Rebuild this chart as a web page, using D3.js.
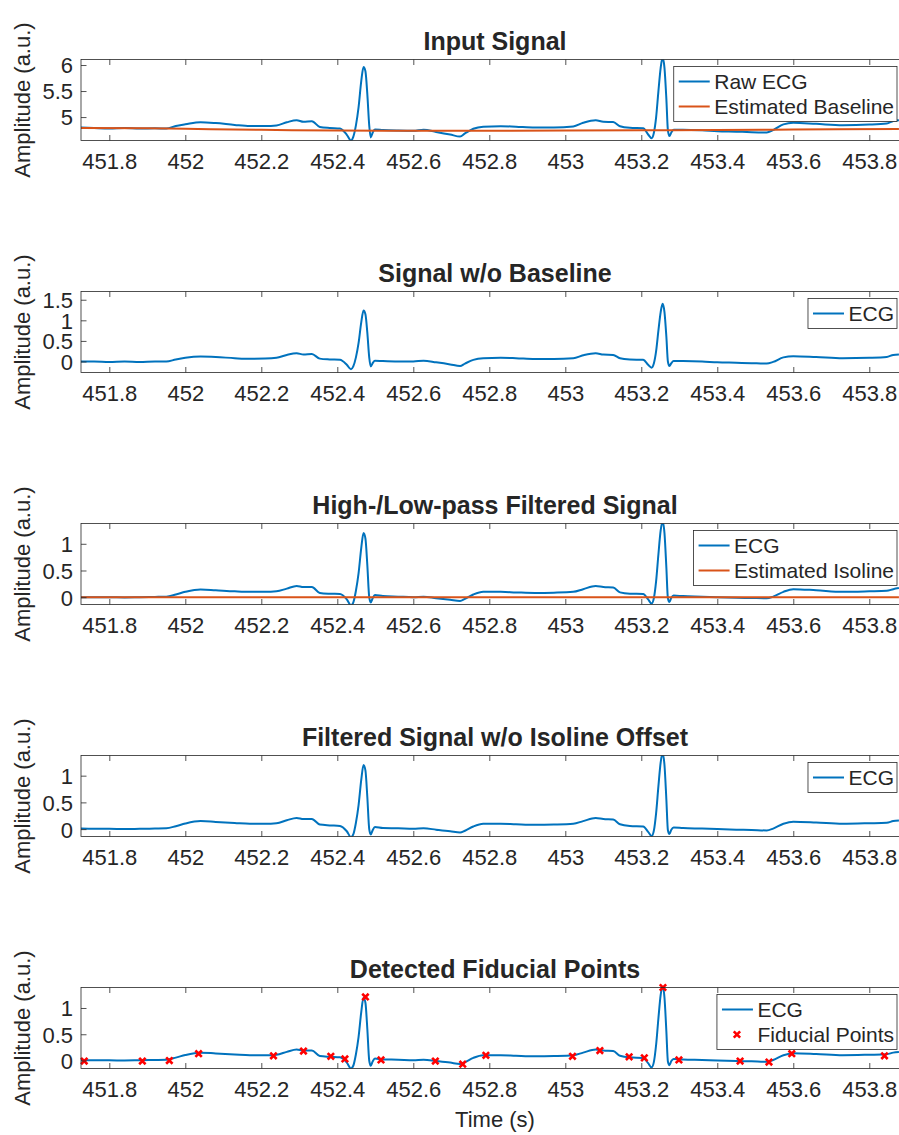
<!DOCTYPE html>
<html>
<head>
<meta charset="utf-8">
<script src="https://cdn.jsdelivr.net/npm/d3@7"></script>
<style>
  body { margin: 0; background: #fff; }
  svg { display: block; }
  text { font-family: "Liberation Sans", Arial, Helvetica, sans-serif; fill: #262626; }
</style>
</head>
<body>
<svg id="chart"></svg>
<script>
// time grid shared by the ECG traces (s)
const timeGrid = [
  451.725, 451.76, 451.80, 451.84, 451.88, 451.92, 451.95, 451.975, 452.00, 452.04,
  452.08, 452.13, 452.17, 452.21, 452.24, 452.267, 452.293, 452.311, 452.333, 452.354,
  452.38, 452.407, 452.425, 452.436, 452.442, 452.449, 452.456, 452.463, 452.469, 452.474,
  452.479, 452.484, 452.488, 452.493, 452.499, 452.52, 452.56, 452.60, 452.627, 452.66,
  452.697, 452.723, 452.736, 452.758, 452.784, 452.83, 452.87, 452.92, 452.97, 453.021,
  453.047, 453.080, 453.100, 453.126, 453.144, 453.17, 453.205, 453.218, 453.227, 453.233,
  453.239, 453.245, 453.251, 453.256, 453.261, 453.266, 453.270, 453.274, 453.279, 453.285,
  453.31, 453.36, 453.40, 453.45, 453.49, 453.53, 453.547, 453.574, 453.60, 453.66,
  453.73, 453.80, 453.846, 453.863, 453.878
];

const rawECG = [
  4.80, 4.79, 4.78, 4.79, 4.78, 4.785, 4.78, 4.83, 4.86, 4.90,
  4.885, 4.85, 4.83, 4.83, 4.84, 4.90, 4.94, 4.91, 4.92, 4.81,
  4.79, 4.78, 4.66, 4.55, 4.62, 4.84, 5.19, 5.69, 5.96, 5.88,
  5.44, 4.84, 4.61, 4.70, 4.76, 4.75, 4.74, 4.735, 4.755, 4.715,
  4.665, 4.625, 4.685, 4.775, 4.815, 4.825, 4.815, 4.80, 4.80, 4.82,
  4.89, 4.94, 4.91, 4.905, 4.825, 4.795, 4.785, 4.665, 4.595, 4.695,
  4.995, 5.495, 5.945, 6.145, 5.945, 5.345, 4.745, 4.635, 4.705, 4.755,
  4.755, 4.745, 4.73, 4.72, 4.71, 4.705, 4.75, 4.86, 4.89, 4.87,
  4.845, 4.855, 4.875, 4.925, 4.94
];

const baselineTime = [451.725, 451.9, 452.0, 452.2, 452.4, 452.6, 452.8, 453.0, 453.2, 453.4, 453.6, 453.878];
const baselineVal  = [4.79, 4.785, 4.775, 4.755, 4.74, 4.735, 4.735, 4.74, 4.745, 4.75, 4.76, 4.77];

const ecgNoBaseline = [
  0.0, 0.0, -0.01, 0.0, -0.01, 0.0, 0.0, 0.05, 0.09, 0.12,
  0.11, 0.08, 0.065, 0.07, 0.09, 0.16, 0.2, 0.17, 0.18, 0.07,
  0.05, 0.04, -0.08, -0.19, -0.12, 0.1, 0.45, 0.95, 1.24, 1.15,
  0.7, 0.1, -0.12, -0.04, 0.02, 0.01, 0.0, 0.0, 0.02, -0.02,
  -0.07, -0.11, -0.05, 0.04, 0.08, 0.09, 0.08, 0.06, 0.06, 0.08,
  0.15, 0.2, 0.17, 0.16, 0.08, 0.05, 0.04, -0.08, -0.15, -0.05,
  0.25, 0.75, 1.2, 1.40, 1.2, 0.6, 0.0, -0.11, -0.04, 0.01,
  0.01, 0.0, -0.02, -0.03, -0.04, -0.05, -0.01, 0.1, 0.13, 0.11,
  0.08, 0.09, 0.11, 0.16, 0.17
];

const ecgFiltered = [
  0.0, 0.0, 0.0, -0.005, 0.0, 0.005, 0.01, 0.05, 0.1, 0.145,
  0.13, 0.11, 0.1, 0.1, 0.11, 0.16, 0.21, 0.19, 0.19, 0.08,
  0.065, 0.06, -0.04, -0.15, -0.1, 0.12, 0.45, 0.92, 1.2, 1.1,
  0.6, 0.0, -0.1, -0.02, 0.04, 0.02, 0.01, 0.0, 0.01, -0.02,
  -0.05, -0.07, -0.03, 0.05, 0.1, 0.1, 0.09, 0.08, 0.085, 0.1,
  0.15, 0.21, 0.19, 0.18, 0.09, 0.065, 0.06, -0.04, -0.12, -0.02,
  0.3, 0.8, 1.25, 1.42, 1.2, 0.55, -0.02, -0.09, -0.01, 0.03,
  0.02, 0.01, 0.0, -0.01, -0.015, -0.02, 0.01, 0.1, 0.15, 0.13,
  0.1, 0.11, 0.12, 0.15, 0.17
];

const isolineTime = [451.725, 453.878];
const isolineVal  = [0, 0];

const ecgFinal = [
  0.01, 0.005, 0.005, 0.0, 0.005, 0.01, 0.015, 0.055, 0.105, 0.15,
  0.135, 0.115, 0.1, 0.1, 0.11, 0.165, 0.21, 0.19, 0.19, 0.085,
  0.07, 0.06, -0.04, -0.15, -0.1, 0.12, 0.45, 0.92, 1.2, 1.1,
  0.6, 0.0, -0.1, -0.02, 0.04, 0.02, 0.015, 0.005, 0.015, -0.01,
  -0.04, -0.065, -0.03, 0.05, 0.1, 0.1, 0.09, 0.08, 0.085, 0.1,
  0.15, 0.21, 0.19, 0.18, 0.09, 0.06, 0.05, -0.05, -0.13, -0.03,
  0.3, 0.8, 1.25, 1.42, 1.2, 0.55, -0.02, -0.09, -0.01, 0.03,
  0.02, 0.01, 0.0, -0.01, -0.015, -0.025, 0.01, 0.1, 0.14, 0.125,
  0.1, 0.11, 0.12, 0.15, 0.16
];

const fiducialTime = [451.734, 451.887, 451.958, 452.035, 452.232, 452.311, 452.383, 452.420, 452.474, 452.515,
  452.658, 452.730, 452.791, 453.019, 453.091, 453.168, 453.208, 453.257, 453.299, 453.460,
  453.536, 453.596, 453.840];
const fiducialVal = [-0.01, -0.01, 0.0, 0.13, 0.09, 0.18, 0.08, 0.03, 1.21, 0.01,
  -0.01, -0.07, 0.1, 0.08, 0.19, 0.07, 0.05, 1.39, 0.01, -0.01,
  -0.03, 0.13, 0.09];

const xTicks = [451.8, 452, 452.2, 452.4, 452.6, 452.8, 453, 453.2, 453.4, 453.6, 453.8];
const xTickLabels = ["451.8", "452", "452.2", "452.4", "452.6", "452.8", "453", "453.2", "453.4", "453.6", "453.8"];

const titles = ["Input Signal", "Signal w/o Baseline", "High-/Low-pass Filtered Signal",
  "Filtered Signal w/o Isoline Offset", "Detected Fiducial Points"];
const yDomains = [[4.55, 6.106], [-0.267, 1.70], [-0.137, 1.38], [-0.138, 1.377], [-0.152, 1.39]];
const yTicks = [[5, 5.5, 6], [0, 0.5, 1, 1.5], [0, 0.5, 1], [0, 0.5, 1], [0, 0.5, 1]];
const yTickLabels = [["5", "5.5", "6"], ["0", "0.5", "1", "1.5"], ["0", "0.5", "1"], ["0", "0.5", "1"], ["0", "0.5", "1"]];

const blue = "#0072BD", orange = "#D95319", red = "#FF0000", axisColor = "#262626";

const width = 899, height = 1135;
const left = 81, right = 909, plotH = 81;
const tops = [59.5, 291.5, 523.5, 755.5, 987.5];
const centerX = (left + right) / 2;

const svg = d3.select("#chart").attr("width", width).attr("height", height);

const x = d3.scaleLinear().domain([451.7255, 453.9045]).range([left, right]);

const toPoints = (ts, vs) => ts.map((t, i) => [t, vs[i]]);

const panels = [
  { series: [{ pts: toPoints(timeGrid, rawECG), color: blue, name: "Raw ECG" },
             { pts: toPoints(baselineTime, baselineVal), color: orange, name: "Estimated Baseline" }] },
  { series: [{ pts: toPoints(timeGrid, ecgNoBaseline), color: blue, name: "ECG" }] },
  { series: [{ pts: toPoints(timeGrid, ecgFiltered), color: blue, name: "ECG" },
             { pts: toPoints(isolineTime, isolineVal), color: orange, name: "Estimated Isoline" }] },
  { series: [{ pts: toPoints(timeGrid, ecgFinal), color: blue, name: "ECG" }] },
  { series: [{ pts: toPoints(timeGrid, ecgFinal), color: blue, name: "ECG" }],
    markers: toPoints(fiducialTime, fiducialVal) }
];

const xMark = "M-3.2,-3.2L3.2,3.2M-3.2,3.2L3.2,-3.2";

panels.forEach((p, k) => {
  const top = tops[k], bottom = top + plotH;
  const y = d3.scaleLinear().domain(yDomains[k]).range([bottom, top]);
  const g = svg.append("g");

  g.append("clipPath").attr("id", "clip" + k)
    .append("rect").attr("x", left).attr("y", top).attr("width", right - left).attr("height", plotH);

  const line = d3.line().x(d => x(d[0])).y(d => y(d[1])).curve(d3.curveMonotoneX);

  const plot = g.append("g").attr("clip-path", `url(#clip${k})`);
  // draw orange first only where it sits under the blue trace? MATLAB draws in order
  p.series.forEach(s => {
    plot.append("path").datum(s.pts)
      .attr("d", line).attr("fill", "none")
      .attr("stroke", s.color).attr("stroke-width", 2)
      .attr("stroke-linejoin", "round");
  });

  if (p.markers) {
    g.selectAll(".fid").data(p.markers).enter().append("path")
      .attr("class", "fid")
      .attr("transform", d => `translate(${x(d[0])},${y(d[1])})`)
      .attr("d", xMark).attr("stroke", red).attr("stroke-width", 2.6).attr("fill", "none");
  }

  // axes
  const xb = g.append("g").attr("transform", `translate(0,${bottom})`)
    .call(d3.axisBottom(x).tickValues(xTicks).tickSizeInner(-5.5).tickSizeOuter(0)
      .tickPadding(13).tickFormat((d, i) => xTickLabels[i]));
  const xt = g.append("g").attr("transform", `translate(0,${top})`)
    .call(d3.axisTop(x).tickValues(xTicks).tickSizeInner(-5.5).tickSizeOuter(0).tickFormat(""));
  const yl = g.append("g").attr("transform", `translate(${left},0)`)
    .call(d3.axisLeft(y).tickValues(yTicks[k]).tickSizeInner(-5.5).tickSizeOuter(0)
      .tickPadding(8).tickFormat((d, i) => yTickLabels[k][i]));
  [xb, xt, yl].forEach(a => {
    a.select(".domain").remove();
    a.selectAll("line").attr("stroke", axisColor).attr("stroke-width", 0.8);
    a.selectAll("text").attr("font-size", 22).attr("font-family", null).attr("fill", axisColor);
  });
  yl.selectAll("text").attr("dy", "0.36em");

  g.append("rect").attr("x", left).attr("y", top).attr("width", right - left).attr("height", plotH)
    .attr("fill", "none").attr("stroke", axisColor).attr("stroke-width", 0.8);

  // title
  g.append("text").attr("x", centerX).attr("y", top - 9.5)
    .attr("text-anchor", "middle").attr("font-size", 25).attr("font-weight", "bold")
    .attr("fill", "#000").text(titles[k]);

  // y label
  g.append("text")
    .attr("transform", `translate(29.5,${(top + bottom) / 2}) rotate(-90)`)
    .attr("text-anchor", "middle").attr("font-size", 22).text("Amplitude (a.u.)");

  // legend
  const entries = p.series.map(s => ({ name: s.name, color: s.color, type: "line" }));
  if (p.markers) entries.push({ name: "Fiducial Points", color: red, type: "marker" });
  const lg = g.append("g");
  const box = lg.append("rect").attr("fill", "#fff").attr("stroke", axisColor).attr("stroke-width", 0.8);
  const rowH = 25, boxTop = top + 7;
  let maxW = 0;
  entries.forEach((e, i) => {
    const ey = boxTop + 15 + i * rowH;
    const item = lg.append("g");
    const txt = item.append("text").attr("y", ey).attr("dy", "0.36em")
      .attr("font-size", 21).attr("fill", "#000").text(e.name);
    maxW = Math.max(maxW, txt.node().getComputedTextLength());
    e.item = item; e.ey = ey; e.txt = txt;
  });
  const boxRight = 897;
  const boxLeft = boxRight - (5 + 31 + 4.5 + maxW + 3);
  box.attr("x", boxLeft).attr("y", boxTop).attr("width", boxRight - boxLeft)
    .attr("height", entries.length * rowH + 5);
  entries.forEach(e => {
    e.txt.attr("x", boxLeft + 40.5);
    if (e.type === "line") {
      e.item.append("line").attr("x1", boxLeft + 5).attr("x2", boxLeft + 36)
        .attr("y1", e.ey).attr("y2", e.ey).attr("stroke", e.color).attr("stroke-width", 2);
    } else {
      e.item.append("path").attr("transform", `translate(${boxLeft + 20},${e.ey})`)
        .attr("d", xMark).attr("stroke", e.color).attr("stroke-width", 2.6).attr("fill", "none");
    }
  });
});

svg.append("text").attr("x", centerX).attr("y", 1127)
  .attr("text-anchor", "middle").attr("font-size", 22).text("Time (s)");
</script>
</body>
</html>
